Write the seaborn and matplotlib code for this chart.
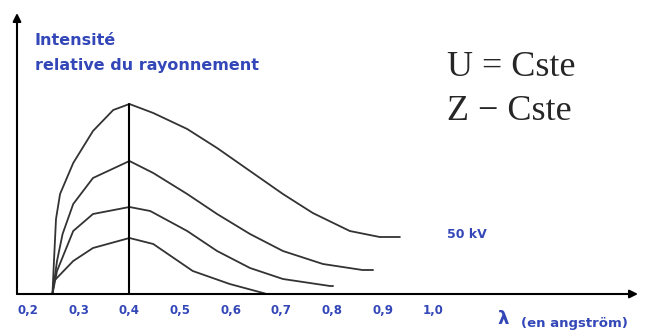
import matplotlib
matplotlib.use("Agg")
import matplotlib.pyplot as plt
import numpy as np
import pandas as pd
import seaborn as sns

# wavelength (angstrom) / relative intensity, top curve first
lam_1 = [0.248, 0.251, 0.255, 0.263, 0.289, 0.328, 0.368, 0.400, 0.447, 0.514,
         0.573, 0.638, 0.703, 0.762, 0.835, 0.894, 0.934]
int_1 = [0.00, 0.33, 0.75, 1.00, 1.31, 1.63, 1.84, 1.90, 1.81, 1.65,
         1.46, 1.23, 1.00, 0.81, 0.63, 0.57, 0.57]

lam_2 = [0.248, 0.257, 0.268, 0.289, 0.328, 0.400, 0.447, 0.514, 0.573,
         0.638, 0.703, 0.782, 0.860, 0.881]
int_2 = [0.00, 0.33, 0.60, 0.90, 1.16, 1.33, 1.21, 1.00, 0.80,
         0.60, 0.43, 0.30, 0.24, 0.24]

lam_3 = [0.248, 0.257, 0.289, 0.328, 0.400, 0.441, 0.514, 0.573, 0.638,
         0.703, 0.796, 0.802]
int_3 = [0.00, 0.23, 0.63, 0.80, 0.87, 0.83, 0.63, 0.43, 0.26,
         0.15, 0.08, 0.08]

lam_4 = [0.248, 0.251, 0.289, 0.328, 0.400, 0.447, 0.525, 0.598, 0.664, 0.671]
int_4 = [0.00, 0.13, 0.33, 0.46, 0.56, 0.50, 0.23, 0.10, 0.01, 0.00]

lam_peak = 0.40
xticks = [0.2, 0.3, 0.4, 0.5, 0.6, 0.7, 0.8, 0.9, 1.0]
xtick_labels = ["0,2", "0,3", "0,4", "0,5", "0,6", "0,7", "0,8", "0,9", "1,0"]

blue = "#3347b8"

frames = []
for name, l, i in [("c1", lam_1, int_1), ("c2", lam_2, int_2),
                   ("c3", lam_3, int_3), ("c4", lam_4, int_4)]:
    frames.append(pd.DataFrame({"lam": l, "I": i, "curve": name}))
df = pd.concat(frames, ignore_index=True)

sns.set_style("white")
plt.rcParams["font.family"] = ["DejaVu Sans"]

fig = plt.figure(figsize=(6.53, 3.33), dpi=100)
ax = fig.add_axes([17 / 653, 39 / 333, 621 / 653, 281 / 333])

sns.lineplot(data=df, x="lam", y="I", hue="curve", units="curve", estimator=None,
             sort=False, palette=["#333333"] * 4, linewidth=1.3, legend=False, ax=ax)

peak = max(int_1)
ax.plot([lam_peak, lam_peak], [0, peak], color="black", linewidth=1.5)

ax.set_xlim(0.178, 1.404)
ax.set_ylim(0, 2.81)
for s in ax.spines.values():
    s.set_visible(False)

# axis arrows
ax.annotate("", xy=(1, 0), xytext=(0, 0), xycoords="axes fraction",
            arrowprops=dict(arrowstyle="-|>", color="black", lw=1.5,
                            mutation_scale=12, shrinkA=0, shrinkB=0))
ax.annotate("", xy=(0, 1), xytext=(0, 0), xycoords="axes fraction",
            arrowprops=dict(arrowstyle="-|>", color="black", lw=1.5,
                            mutation_scale=12, shrinkA=0, shrinkB=0))

ax.set_xticks(xticks)
ax.set_xticklabels(xtick_labels, fontsize=8.5, fontweight="bold", color=blue)
ax.set_yticks([])
ax.tick_params(axis="x", direction="in", length=6, width=1, color="#333333", pad=7)
ax.set_xlabel("")
ax.set_ylabel("")

ft = fig.transFigure
ax.text(35 / 653, 1 - 33 / 333, "Intensité\nrelative du rayonnement",
        transform=ft, fontsize=11.5, fontweight="bold", color=blue,
        va="top", ha="left", linespacing=1.85)
ax.text(447 / 653, 1 - 67 / 333, "U = Cste", transform=ft,
        fontsize=26, family="Liberation Serif", va="center", ha="left")
ax.text(447 / 653, 1 - 112 / 333, "Z \u2212 Cste", transform=ft,
        fontsize=26, family="Liberation Serif", va="center", ha="left")
ax.text(447 / 653, 1 - 234 / 333, "50 kV", transform=ft,
        fontsize=9, fontweight="bold", color=blue, va="center", ha="left")
ax.text(497 / 653, 1 - 319 / 333, "\u03bb", transform=ft,
        fontsize=13, fontweight="bold", color=blue, va="center", ha="left")
ax.text(521 / 653, 1 - 324 / 333, "(en angström)", transform=ft,
        fontsize=9.5, fontweight="bold", color=blue, va="center", ha="left")

fig.savefig("out.png", dpi=100)
